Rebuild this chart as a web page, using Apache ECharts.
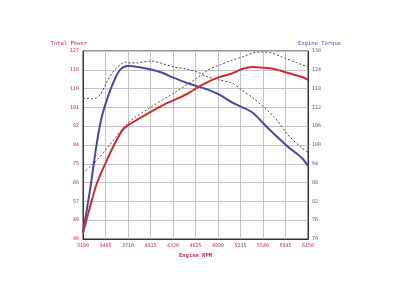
<!DOCTYPE html>
<html><head><meta charset="utf-8">
<script src="https://cdn.jsdelivr.net/npm/echarts@6/dist/echarts.min.js"></script>
<style>html,body{margin:0;padding:0;background:#fff}#c{width:400px;height:300px}</style>
</head><body><div id="c"></div>
<script>
const rpmTicks = [3100, 3405, 3710, 4015, 4320, 4625, 4930, 5235, 5540, 5845, 6150];
const powerTicks = [40, 48.7, 57.4, 66.1, 74.8, 83.5, 92.2, 100.9, 109.6, 118.3, 127];
const torqueTicks = [70, 76, 82, 88, 94, 100, 106, 112, 118, 124, 130];

const powerRpm = [3100, 3195, 3290, 3425, 3535, 3640, 3710, 3875, 4020, 4185, 4335, 4510, 4645, 4795, 4955, 5120, 5255, 5405, 5565, 5705, 5880, 6070, 6150];
const power    = [42.8, 54.8, 65.9, 76.6, 84.4, 90.6, 92.6, 96, 98.8, 102, 104.3, 107.1, 109.9, 112.7, 115, 116.6, 118.7, 119.6, 119.2, 118.6, 116.8, 115, 113.6];

const torqueRpm = [3100, 3195, 3290, 3360, 3440, 3520, 3600, 3710, 3870, 4020, 4145, 4335, 4510, 4645, 4800, 4955, 5120, 5255, 5405, 5565, 5705, 5880, 6070, 6150];
const torque    = [72.2, 85.6, 101, 109.5, 115.5, 120.4, 123.9, 125.2, 124.8, 124.1, 123.3, 121.4, 119.8, 118.8, 117.6, 116, 113.6, 112.1, 110.2, 106.4, 103.2, 99.4, 95.8, 93.3];

const powerRefRpm = [3100, 3290, 3440, 3710, 4020, 4335, 4645, 4795, 4955, 5120, 5255, 5405, 5525, 5660, 5800, 5975, 6150];
const powerRef    = [70.5, 76.6, 82.6, 93.7, 101.1, 107.6, 114.5, 118.2, 120.5, 122.8, 124.2, 126.1, 126.5, 126.1, 124.2, 121.9, 119.5];

const torqueRefRpm = [3100, 3235, 3330, 3400, 3495, 3600, 3670, 3710, 3830, 3915, 4020, 4145, 4335, 4510, 4645, 4795, 4955, 5120, 5255, 5405, 5565, 5705, 5880, 6070, 6150];
const torqueRef    = [115, 114.7, 116, 119.1, 123, 125.5, 126.5, 126.2, 126.2, 126.5, 126.8, 126.2, 124.9, 124.2, 123.3, 121.7, 120.7, 119.8, 117.5, 115, 111.8, 108.6, 103.2, 99, 97.7];

const pair = (xs, ys) => xs.map((x, i) => [x, ys[i]]);
const RED = '#d22b2b', BLUE = '#4848a8', LBL = '#c8285a';
const font = 'DejaVu Sans Mono';

const chart = echarts.init(document.getElementById('c'), null, {renderer: 'canvas'});
chart.setOption({
  animation: false,
  backgroundColor: '#fff',
  grid: {left: 83, right: 92, top: 51, bottom: 61, show: true, borderColor: '#333', borderWidth: 1},
  xAxis: {
    type: 'value', min: 3100, max: 6150,
    name: 'Engine RPM', nameLocation: 'middle', nameGap: 11,
    nameTextStyle: {color: LBL, fontSize: 5.5, fontFamily: font, fontWeight: 'bold'},
    axisLine: {lineStyle: {color: '#333'}},
    axisTick: {show: false, customValues: rpmTicks},
    axisLabel: {customValues: rpmTicks, color: LBL, fontSize: 5, fontFamily: font, margin: 4,
      formatter: v => String(v)},
    splitLine: {show: true, lineStyle: {color: '#c4c4c4', width: 1}}
  },
  yAxis: [{
    type: 'value', min: 40, max: 127, position: 'left',
    name: 'Total Power', nameLocation: 'end', nameGap: 4,
    nameTextStyle: {color: LBL, fontSize: 5.5, fontFamily: font, align: 'right', padding: [0, -4, 0, 0]},
    axisLine: {show: true, lineStyle: {color: '#333'}},
    axisTick: {show: false, customValues: powerTicks},
    axisLabel: {customValues: powerTicks, color: LBL, fontSize: 5, fontFamily: font, margin: 4,
      formatter: v => String(Math.round(v))},
    splitLine: {show: true, lineStyle: {color: '#c4c4c4', width: 1}}
  }, {
    type: 'value', min: 70, max: 130, position: 'right',
    name: 'Engine Torque', nameLocation: 'end', nameGap: 4,
    nameTextStyle: {color: BLUE, fontSize: 5.5, fontFamily: font, align: 'left', padding: [0, 0, 0, -10]},
    axisLine: {show: true, lineStyle: {color: '#333'}},
    axisTick: {show: false, customValues: torqueTicks},
    axisLabel: {customValues: torqueTicks, color: '#5a5a90', fontSize: 5, fontFamily: font, margin: 4},
    splitLine: {show: false}
  }],
  series: [
    {name: 'Power (ref)', type: 'line', yAxisIndex: 0, data: pair(powerRefRpm, powerRef), smooth: 0.3,
      showSymbol: false, lineStyle: {color: '#555', width: 1, type: [2, 2]}},
    {name: 'Torque (ref)', type: 'line', yAxisIndex: 1, data: pair(torqueRefRpm, torqueRef), smooth: 0.3,
      showSymbol: false, lineStyle: {color: '#444', width: 1, type: [2, 2]}},
    {name: 'Torque', type: 'line', yAxisIndex: 1, data: pair(torqueRpm, torque), smooth: 0.3,
      showSymbol: false, lineStyle: {color: BLUE, width: 2}},
    {name: 'Power', type: 'line', yAxisIndex: 0, data: pair(powerRpm, power), smooth: 0.3,
      showSymbol: false, lineStyle: {color: RED, width: 2}}
  ]
});
</script></body></html>
